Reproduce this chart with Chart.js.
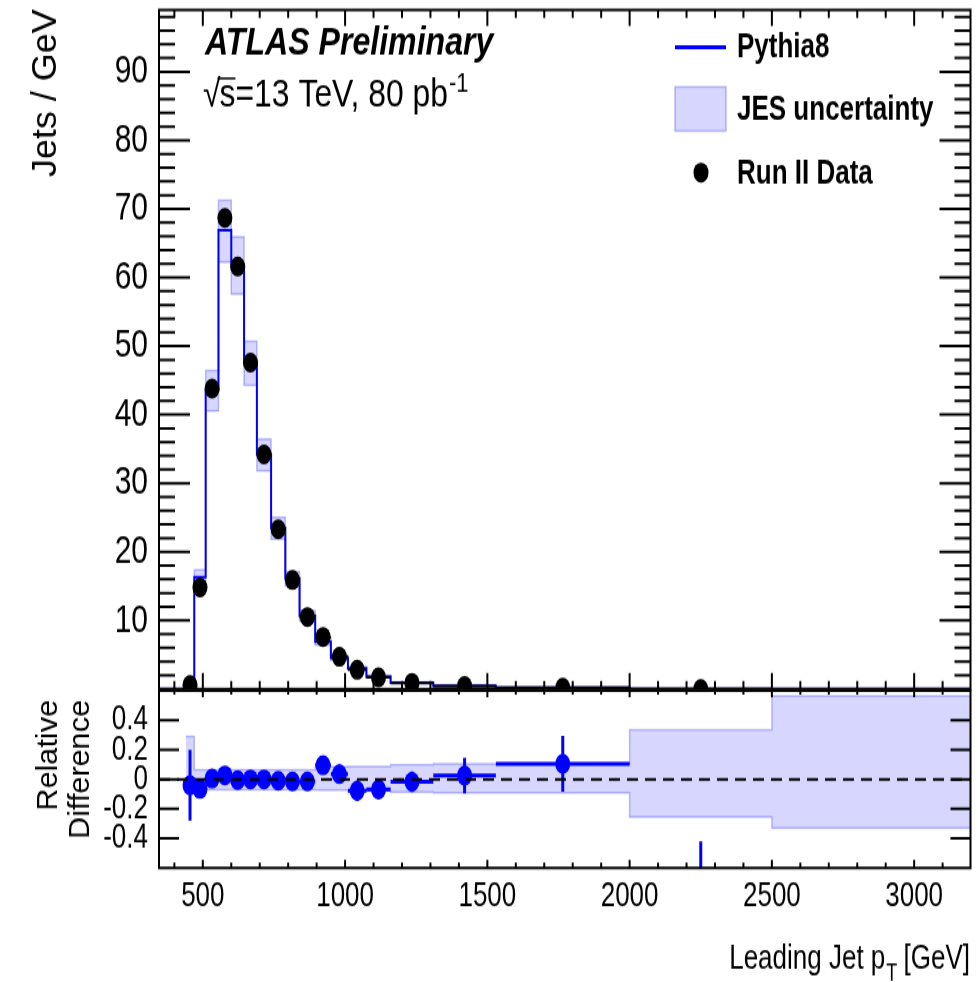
<!DOCTYPE html>
<html>
<head>
<meta charset="utf-8">
<title>Leading jet pT</title>
<script src="https://cdn.jsdelivr.net/npm/chart.js@4.4.1/dist/chart.umd.min.js"></script>
<style>
  html, body { margin: 0; padding: 0; background: #fff; }
  #wrap { position: relative; width: 978px; height: 982px; overflow: hidden; }
  #wrap canvas { position: absolute; left: 0; top: 0; }
</style>
</head>
<body>
<div id="wrap">
  <canvas id="mainChart" width="978" height="738" style="width:978px;height:982px"></canvas>
  <canvas id="ratioChart" width="978" height="738" style="width:978px;height:982px"></canvas>
</div>
<script>
// bin edges, GeV
const binEdges = [440, 470, 510, 555, 600, 645, 690, 740, 790, 840, 895, 950, 1010, 1075, 1160, 1310, 1530, 2000, 2500, 3200];
// Run II data, jets / GeV (no entry for the last bin)
const dataValues = [0.6, 14.8, 43.8, 68.7, 61.6, 47.6, 34.2, 23.3, 15.9, 10.5, 7.6, 4.7, 2.8, 1.7, 0.9, 0.45, 0.2, 0.002];
// Pythia8 prediction, jets / GeV
const mcValues = [0.62, 16.3, 43.6, 66.9, 61.9, 47.6, 34.2, 23.5, 16.1, 10.7, 6.9, 4.5, 3.0, 1.82, 0.92, 0.44, 0.18, 0.007, 0.001];
// JES uncertainty, relative
const jesUp = [0.29, 0.065, 0.065, 0.065, 0.065, 0.065, 0.065, 0.065, 0.065, 0.065, 0.08, 0.085, 0.087, 0.087, 0.099, 0.105, 0.10, 0.335, 0.565];
const jesDown = [-0.08, -0.07, -0.07, -0.07, -0.07, -0.07, -0.07, -0.07, -0.07, -0.07, -0.074, -0.074, -0.079, -0.079, -0.087, -0.092, -0.09, -0.255, -0.33];
// relative difference (data - MC) / MC and its error
const ratioValues = [-0.04, -0.065, 0.005, 0.027, -0.005, 0.0, 0.0, -0.01, -0.015, -0.015, 0.095, 0.035, -0.077, -0.068, -0.017, 0.025, 0.105, -0.71];
const ratioErrors = [0.24, 0.05, 0.03, 0.02, 0.02, 0.025, 0.03, 0.035, 0.04, 0.05, 0.055, 0.065, 0.07, 0.065, 0.07, 0.12, 0.19, 0.29];

const xTickLabels = [500, 1000, 1500, 2000, 2500, 3000];
const yTickLabels = [10, 20, 30, 40, 50, 60, 70, 80, 90];
const ratioTickLabels = [-0.4, -0.2, 0, 0.2, 0.4];

// the picture is stretched vertically, canvas is drawn at 738 px high
const S = 982 / 738;
const FONT = '"Liberation Sans", Arial, Helvetica, sans-serif';
const BLUE = '#0000ff';
const BAND_FILL = 'rgba(0, 0, 255, 0.16)';
const BAND_EDGE = 'rgba(70, 70, 235, 0.35)';
const X_MIN = 346, X_MAX = 3198;

const binCenters = dataValues.map((v, i) => (binEdges[i] + binEdges[i + 1]) / 2);

// histogram outline, one point per left edge plus the last right edge
function stepPoints(vals) {
  const pts = vals.map((v, i) => ({ x: binEdges[i], y: v }));
  pts.push({ x: binEdges[vals.length], y: vals[vals.length - 1] });
  return pts;
}
// bin width bars, broken by null points
function hBars(vals) {
  const pts = [];
  vals.forEach((v, i) => {
    pts.push({ x: binEdges[i], y: v }, { x: binEdges[i + 1], y: v }, { x: binEdges[i + 1], y: null });
  });
  return pts;
}
function vBars(vals, errs) {
  const pts = [];
  vals.forEach((v, i) => {
    pts.push({ x: binCenters[i], y: v - errs[i] }, { x: binCenters[i], y: v + errs[i] }, { x: binCenters[i], y: null });
  });
  return pts;
}

// text with a horizontal stretch, returns the drawn width
function wideText(ctx, str, x, y, font, sx) {
  ctx.save();
  ctx.font = font;
  ctx.translate(x, y);
  ctx.scale(sx, 1);
  ctx.fillText(str, 0, 0);
  const w = ctx.measureText(str).width * sx;
  ctx.restore();
  return w;
}

// frame with inward ticks on all four sides
function makeFrame(cfg) {
  return {
    id: 'frame',
    afterDatasetsDraw(chart) {
      const { ctx, chartArea: a } = chart;
      const xs = chart.scales.x, ys = chart.scales.y;
      ctx.save();
      ctx.strokeStyle = '#000';
      ctx.lineWidth = 2;
      ctx.beginPath();
      for (let v = 400; v <= 3100; v += 100) {
        const px = xs.getPixelForValue(v);
        const major = v % 500 === 0;
        ctx.moveTo(px, a.bottom);
        ctx.lineTo(px, a.bottom - (major ? cfg.xBottom[0] : cfg.xBottom[1]));
        ctx.moveTo(px, a.top);
        ctx.lineTo(px, a.top + (major ? cfg.xTop[0] : cfg.xTop[1]));
      }
      cfg.yMajor.forEach(v => {
        const py = ys.getPixelForValue(v);
        ctx.moveTo(a.left, py); ctx.lineTo(a.left + cfg.yLen[0], py);
        ctx.moveTo(a.right, py); ctx.lineTo(a.right - cfg.yLen[0], py);
      });
      cfg.yMinor.forEach(v => {
        const py = ys.getPixelForValue(v);
        ctx.moveTo(a.left, py); ctx.lineTo(a.left + cfg.yLen[1], py);
        ctx.moveTo(a.right, py); ctx.lineTo(a.right - cfg.yLen[1], py);
      });
      ctx.stroke();
      ctx.strokeRect(a.left, a.top, a.right - a.left, a.bottom - a.top);
      ctx.restore();
    }
  };
}

const topMinors = [];
for (let v = 2; v < 99; v += 2) if (v % 10 !== 0) topMinors.push(v);

// rotated title, glyphs a bit thicker like the original
function sideTitle(ctx, str, cx, top, size, k) {
  ctx.save();
  ctx.translate(0, top);
  ctx.rotate(-Math.PI / 2);
  ctx.scale(1, k);
  ctx.textAlign = 'right';
  ctx.textBaseline = 'middle';
  ctx.font = size + 'px ' + FONT;
  ctx.fillText(str, 0, cx / k);
  ctx.restore();
}

const mainLabels = {
  id: 'mainLabels',
  afterDraw(chart) {
    const ctx = chart.ctx;
    ctx.save();
    ctx.fillStyle = '#000';
    ctx.strokeStyle = '#000';
    ctx.textBaseline = 'alphabetic';
    ctx.textAlign = 'left';

    wideText(ctx, 'ATLAS Preliminary', 205, 55 / S, 'italic bold 30px ' + FONT, 1.07);

    // sqrt(s)=13 TeV, 80 pb-1
    const base = 107 / S;
    const f = '29px ' + FONT;
    let x = 203;
    x += wideText(ctx, '\u221A', x, base, f, 1.1) - 1;
    const ws = wideText(ctx, 's', x, base, f, 1.1);
    ctx.lineWidth = 1.5;
    ctx.beginPath();
    ctx.moveTo(x - 2, base - 21.5);
    ctx.lineTo(x + ws, base - 21.5);
    ctx.stroke();
    x += ws;
    x += wideText(ctx, '=13 TeV, 80 pb', x, base, f, 1.1) + 1;
    wideText(ctx, '-1', x, 92 / S, '20px ' + FONT, 1.1);

    // legend
    ctx.strokeStyle = BLUE;
    ctx.lineWidth = 3;
    ctx.beginPath();
    ctx.moveTo(675, 47.3 / S);
    ctx.lineTo(726, 47.3 / S);
    ctx.stroke();
    ctx.fillStyle = BAND_FILL;
    ctx.fillRect(675, 87 / S, 51, 44 / S);
    ctx.strokeStyle = BAND_EDGE;
    ctx.lineWidth = 1.5;
    ctx.strokeRect(675, 87 / S, 51, 44 / S);
    ctx.fillStyle = '#000';
    ctx.beginPath();
    ctx.arc(701, 172.5 / S, 7.5, 0, Math.PI * 2);
    ctx.fill();
    ctx.font = 'bold 26px ' + FONT;
    ctx.fillText('Pythia8', 737, 57.3 / S);
    ctx.fillText('JES uncertainty', 737, 120.2 / S);
    ctx.fillText('Run II Data', 737, 183 / S);

    sideTitle(ctx, 'Jets / GeV', 46, 7, 27, 1.3);
    ctx.restore();
  }
};

const ratioLabels = {
  id: 'ratioLabels',
  afterDraw(chart) {
    const ctx = chart.ctx;
    ctx.save();
    ctx.fillStyle = '#000';
    // x title, right aligned
    const base = 969 / S;
    ctx.font = '26px ' + FONT;
    const tail = ' [GeV]', head = 'Leading Jet p';
    const wTail = ctx.measureText(tail).width;
    const wHead = ctx.measureText(head).width;
    ctx.font = '18px ' + FONT;
    const wT = ctx.measureText('T').width;
    const x = 970 - wTail - wT - wHead;
    ctx.font = '26px ' + FONT;
    ctx.fillText(head, x, base);
    ctx.font = '18px ' + FONT;
    ctx.fillText('T', x + wHead + 1, 981 / S);
    ctx.font = '26px ' + FONT;
    ctx.fillText(tail, x + wHead + wT, base);

    sideTitle(ctx, 'Relative', 48.5, 700 / S, 23, 1.3);
    sideTitle(ctx, 'Difference', 81, 700 / S, 23, 1.3);
    ctx.restore();
  }
};

const common = {
  responsive: false,
  animation: false,
  events: [],
  plugins: { legend: { display: false }, tooltip: { enabled: false } },
  elements: { point: { radius: 0 }, line: { tension: 0 } }
};

function yAxis(min, max, labels, size, fmt) {
  return {
    type: 'linear', min, max,
    grid: { display: false, drawTicks: false },
    border: { display: false },
    afterBuildTicks: s => { s.ticks = labels.map(v => ({ value: v })); },
    afterFit: s => { s.width = 159; s.paddingTop = 0; s.paddingBottom = 0; },
    ticks: {
      color: '#000', padding: 11, autoSkip: false, font: { family: FONT, size },
      callback: fmt
    }
  };
}

new Chart(document.getElementById('mainChart'), {
  type: 'line',
  data: {
    datasets: [
      { data: stepPoints(mcValues.map((v, i) => v * (1 + jesUp[i]))), fill: '+1', stepped: 'before',
        backgroundColor: BAND_FILL, borderColor: BAND_EDGE, borderWidth: 1.5, order: 5 },
      { data: stepPoints(mcValues.map((v, i) => v * (1 + jesDown[i]))), fill: false, stepped: 'before',
        borderColor: BAND_EDGE, borderWidth: 1.5, order: 5 },
      { data: [{ x: X_MIN, y: 0 }].concat(stepPoints(mcValues)), fill: false, stepped: 'before',
        borderColor: BLUE, borderWidth: 2, order: 4 },
      { data: hBars(dataValues), fill: false, borderColor: '#000', borderWidth: 2, order: 3 },
      { data: dataValues.map((v, i) => ({ x: binCenters[i], y: v })), showLine: false,
        pointRadius: 7.5, pointBackgroundColor: '#000', pointBorderWidth: 0, order: 1 }
    ]
  },
  options: Object.assign({}, common, {
    layout: { padding: { left: 0, right: 5, top: 6, bottom: 738 - 517.8 } },
    scales: {
      x: { type: 'linear', min: X_MIN, max: X_MAX, display: false },
      y: yAxis(0, 99, yTickLabels, 30, v => String(v))
    }
  }),
  plugins: [makeFrame({ xBottom: [12, 6], xTop: [12, 6], yMajor: yTickLabels, yMinor: topMinors, yLen: [31, 16] }), mainLabels]
});

new Chart(document.getElementById('ratioChart'), {
  type: 'line',
  data: {
    datasets: [
      { data: stepPoints(jesUp), fill: '+1', stepped: 'before',
        backgroundColor: BAND_FILL, borderColor: BAND_EDGE, borderWidth: 1.5, order: 5 },
      { data: stepPoints(jesDown), fill: false, stepped: 'before',
        borderColor: BAND_EDGE, borderWidth: 1.5, order: 5 },
      { data: hBars(ratioValues), fill: false, borderColor: BLUE, borderWidth: 3, order: 3 },
      { data: vBars(ratioValues, ratioErrors), fill: false, borderColor: BLUE, borderWidth: 3, order: 2 },
      { data: ratioValues.map((v, i) => ({ x: binCenters[i], y: v })), showLine: false,
        pointRadius: 7.5, pointBackgroundColor: BLUE, pointBorderWidth: 0, order: 1 },
      { data: [{ x: X_MIN, y: 0 }, { x: X_MAX, y: 0 }], fill: false, borderColor: '#000',
        borderWidth: 2, borderDash: [11, 7], order: 0 }
    ]
  },
  options: Object.assign({}, common, {
    layout: { padding: { left: 0, right: 5, top: 519, bottom: 0 } },
    scales: {
      x: {
        type: 'linear', min: X_MIN, max: X_MAX,
        grid: { display: false, drawTicks: false },
        border: { display: false },
        afterBuildTicks: s => { s.ticks = xTickLabels.map(v => ({ value: v })); },
        afterFit: s => { s.height = 738 - 652.3; s.paddingLeft = 0; s.paddingRight = 0; },
        ticks: { color: '#000', padding: 6, autoSkip: false, maxRotation: 0,
          font: { family: FONT, size: 26 }, callback: v => String(v) }
      },
      y: yAxis(-0.6, 0.6, ratioTickLabels, 26, v => String(v))
    }
  }),
  plugins: [makeFrame({ xBottom: [6, 4], xTop: [5, 3], yMajor: ratioTickLabels, yMinor: [], yLen: [20, 20] }), ratioLabels]
});
</script>
</body>
</html>
